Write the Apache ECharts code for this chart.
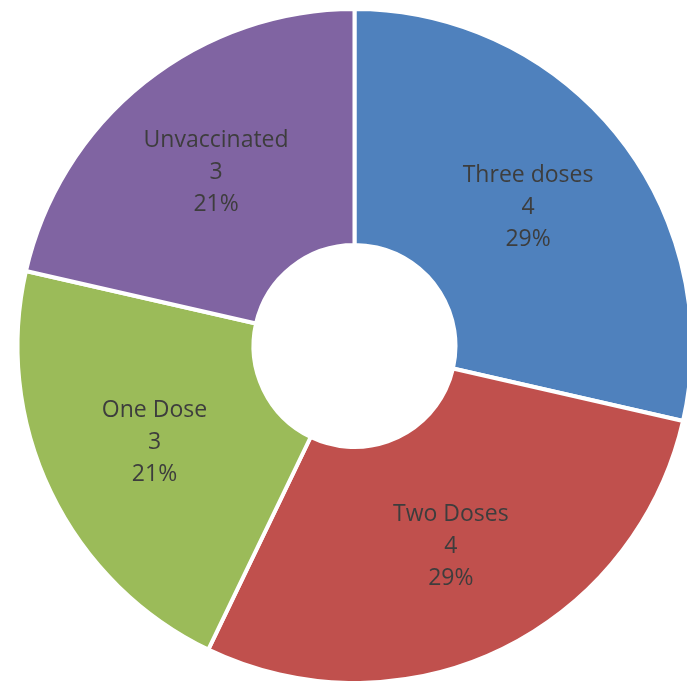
<!DOCTYPE html>
<html>
<head>
<meta charset="utf-8">
<script src="https://cdn.jsdelivr.net/npm/echarts@6/dist/echarts.min.js"></script>
<style>
  html, body { margin: 0; padding: 0; background: #fff; }
  #chart { width: 687px; height: 681px; }
</style>
</head>
<body>
<div id="chart"></div>
<script>
// Vaccination status breakdown
const categories = ['Three doses', 'Two Doses', 'One Dose', 'Unvaccinated'];
const counts = [4, 4, 3, 3];
const colors = ['#4F81BD', '#C0504D', '#9BBB59', '#8064A2'];

const chart = echarts.init(document.getElementById('chart'));
chart.setOption({
  animation: false,
  series: [{
    type: 'pie',
    center: [354.5, 346],
    radius: [101, 337],
    startAngle: 90,
    clockwise: true,
    percentPrecision: 0,
    itemStyle: { borderColor: '#ffffff', borderWidth: 4 },
    label: {
      show: true,
      position: 'inside',
      formatter: '{b}\n{c}\n{d}%',
      color: '#3d3d3d',
      fontFamily: 'Open Sans',
      fontSize: 23,
      lineHeight: 32
    },
    labelLine: { show: false },
    emphasis: { disabled: true },
    data: categories.map((name, i) => ({
      name: name,
      value: counts[i],
      itemStyle: { color: colors[i] }
    }))
  }]
});
</script>
</body>
</html>
